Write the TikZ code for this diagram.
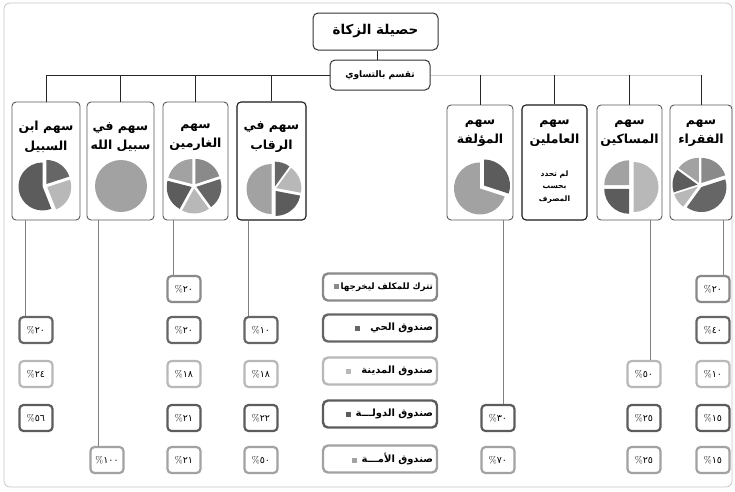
\documentclass[tikz,border=0pt]{standalone}
\usepackage{fontspec}
\newfontfamily\arabicfont[Script=Arabic,BoldFont={DejaVu Sans Bold}]{DejaVu Sans}
\TeXXeTstate=1
\newcommand\AR[1]{{\arabicfont\beginR #1\endR}}
\definecolor{cA}{HTML}{8A8A8A}
\definecolor{cB}{HTML}{666666}
\definecolor{cC}{HTML}{B8B8B8}
\definecolor{cD}{HTML}{5C5C5C}
\definecolor{cE}{HTML}{A2A2A2}
\newcommand\pslice[4]{\fill[#1] ({(#2+#3)/2}:2.5) -- +(#2:#4) arc[start angle=#2,end angle=#3,radius=#4] -- cycle;}
\begin{document}
\begin{tikzpicture}[x=1pt,y=-1pt,
  topbox/.style={draw=black!80, line width=1pt, rounded corners=5pt, fill=white, inner sep=0pt},
  card/.style={draw=black!65, line width=0.9pt, rounded corners=4pt, inner sep=0pt},
  cardtxt/.style={align=center, font=\fontsize{12.5}{19.5}\selectfont\bfseries, inner sep=0pt},
  pct/.style={draw=#1, line width=2.2pt, rounded corners=4pt, fill=white, minimum width=33pt, minimum height=26pt, inner sep=0pt, font=\fontsize{9.5}{10}\selectfont},
  leg/.style={draw=#1, line width=2.4pt, rounded corners=5pt, fill=white, minimum width=114pt, minimum height=27pt, inner sep=0pt, text width=106pt, align=right, font=\fontsize{10}{11}\selectfont\bfseries},
  bus/.style={line width=0.9pt, draw=black!85},
  feed/.style={line width=0.8pt, draw=black!50}]
\useasboundingbox (0,0) rectangle (735,491);
\draw[gray!45, line width=0.8pt, rounded corners=6pt] (4,3) rectangle (732,487);

% top
\node[topbox, minimum width=125pt, minimum height=37pt, font=\fontsize{13.5}{16}\selectfont\bfseries] (title) at (375.5,31.5) {\AR{حصيلة الزكاة}};
\node[topbox, minimum width=100pt, minimum height=30pt, font=\fontsize{9}{10}\selectfont\bfseries] (dist) at (380,75) {\AR{تقسم بالتساوي}};
\draw[bus] ([xshift=2pt]title.south) -- ([xshift=2pt]title.south |- dist.north);

% cards
\node[card, minimum width=68pt, minimum height=118pt] (c1) at (46,161) {};
\node[card, minimum width=67pt, minimum height=118pt] (c2) at (120.5,161) {};
\node[card, minimum width=65pt, minimum height=118pt] (c3) at (195.5,161) {};
\node[card, draw=black!90, line width=1.1pt, minimum width=69pt, minimum height=118pt] (c4) at (271.5,161) {};
\node[card, minimum width=66pt, minimum height=115pt] (c5) at (480,162.5) {};
\node[card, draw=black!90, line width=1.1pt, minimum width=65pt, minimum height=115pt] (c6) at (554.5,162.5) {};
\node[card, minimum width=65pt, minimum height=115pt] (c7) at (629.5,162.5) {};
\node[card, minimum width=62pt, minimum height=115pt] (c8) at (701,162.5) {};

% bus
\draw[bus] (dist.west) -- (c1.north |- dist.west);
\foreach \c in {c1,c2,c3,c4} \draw[bus] (\c.north |- dist.west) -- (\c.north);
\draw[line width=0.8pt, gray!40] (dist.east) -- (c8.north |- dist.east);
\foreach \c in {c5,c6,c7,c8} \draw[bus] (\c.north |- dist.east) -- (\c.north);

% card titles
\node[cardtxt] (t1) at (46,137) {\AR{سهم ابن}\\\AR{السبيل}};
\node[cardtxt] (t2) at (120.5,137) {\AR{سهم في}\\\AR{سبيل الله}};
\node[cardtxt] (t3) at (195.5,137) {\AR{سهم}\\\AR{الغارمين}};
\node[cardtxt] (t4) at (271.5,137) {\AR{سهم في}\\\AR{الرقاب}};
\node[cardtxt] (t5) at (480,133) {\AR{سهم}\\\AR{المؤلفة}};
\node[cardtxt] (t6) at (554.5,133) {\AR{سهم}\\\AR{العاملين}};
\node[cardtxt] (t7) at (629.5,133) {\AR{سهم}\\\AR{المساكين}};
\node[cardtxt] (t8) at (701,133) {\AR{سهم}\\\AR{الفقراء}};
\node[align=center, inner sep=0pt, font=\fontsize{7.5}{12.5}\selectfont\bfseries] (n6) at (554.5,187) {\AR{لم تحدد}\\\AR{بحسب}\\\AR{المصرف}};

% pies
\begin{scope}[shift={(45,186)}, yscale=-1]
  \pslice{cB}{90}{18}{24}\pslice{cC}{18}{-68.4}{24}\pslice{cD}{-68.4}{-270}{24}
\end{scope}
\fill[cE] (121,186) circle[radius=26];
\begin{scope}[shift={(194,186)}, yscale=-1]
  \pslice{cA}{90}{18}{25}\pslice{cB}{18}{-54}{25}\pslice{cC}{-54}{-118.8}{25}\pslice{cD}{-118.8}{-194.4}{25}\pslice{cE}{-194.4}{-270}{25}
\end{scope}
\begin{scope}[shift={(274,189)}, yscale=-1]
  \pslice{cB}{90}{54}{25}\pslice{cC}{54}{-10.8}{25}\pslice{cD}{-10.8}{-90}{25}\pslice{cE}{-90}{-270}{25}
\end{scope}
\begin{scope}[shift={(482,187)}, yscale=-1]
  \pslice{cD}{90}{-18}{26}\pslice{cE}{-18}{-270}{26}
\end{scope}
\begin{scope}[shift={(631,187)}, yscale=-1]
  \pslice{cC}{90}{-90}{25}\pslice{cD}{-90}{-180}{25}\pslice{cE}{-180}{-270}{25}
\end{scope}
\begin{scope}[shift={(700,185)}, yscale=-1]
  \pslice{cA}{90}{18}{25}\pslice{cB}{18}{-126}{25}\pslice{cC}{-126}{-162}{25}\pslice{cD}{-162}{-216}{25}\pslice{cE}{-216}{-270}{25}
\end{scope}

% legend
\node[leg=cA, font=\fontsize{8.8}{10}\selectfont\bfseries] (l1) at (380,287) {\textcolor{cA}{\rule{5pt}{5pt}}\,\AR{تترك للمكلف ليخرجها}};
\node[leg=cB] (l2) at (380,328) {\textcolor{cB}{\rule{5pt}{5pt}}\hspace{10pt}\AR{صندوق الحي}};
\node[leg=cC] (l3) at (380,371) {\textcolor{cC}{\rule{5pt}{5pt}}\hspace{10pt}\AR{صندوق المدينة}};
\node[leg=cD] (l4) at (380,414) {\textcolor{cD}{\rule{5pt}{5pt}}\hspace{5pt}\AR{صندوق الدولـــة}};
\node[leg=cE] (l5) at (380,459) {\textcolor{cE}{\rule{5pt}{5pt}}\hspace{5pt}\AR{صندوق الأمـــة}};

% percentages
\node[pct=cB] (p12) at (36,330) {\%{\arabicfont ٢٠}};
\node[pct=cC] (p13) at (36,374) {\%{\arabicfont ٢٤}};
\node[pct=cD] (p14) at (36,418) {\%{\arabicfont ٥٦}};
\node[pct=cE] (p25) at (107,460) {\%{\arabicfont ١٠٠}};
\node[pct=cA] (p31) at (184,289) {\%{\arabicfont ٢٠}};
\node[pct=cB] (p32) at (184,330) {\%{\arabicfont ٢٠}};
\node[pct=cC] (p33) at (184,374) {\%{\arabicfont ١٨}};
\node[pct=cD] (p34) at (184,418) {\%{\arabicfont ٢١}};
\node[pct=cE] (p35) at (184,460) {\%{\arabicfont ٢١}};
\node[pct=cB] (p42) at (261,330) {\%{\arabicfont ١٠}};
\node[pct=cC] (p43) at (261,374) {\%{\arabicfont ١٨}};
\node[pct=cD] (p44) at (261,418) {\%{\arabicfont ٢٢}};
\node[pct=cE] (p45) at (261,460) {\%{\arabicfont ٥٠}};
\node[pct=cD] (p54) at (498,418) {\%{\arabicfont ٣٠}};
\node[pct=cE] (p55) at (498,460) {\%{\arabicfont ٧٠}};
\node[pct=cC] (p73) at (644,374) {\%{\arabicfont ٥٠}};
\node[pct=cD] (p74) at (644,418) {\%{\arabicfont ٢٥}};
\node[pct=cE] (p75) at (644,460) {\%{\arabicfont ٢٥}};
\node[pct=cA] (p81) at (713,289) {\%{\arabicfont ٢٠}};
\node[pct=cB] (p82) at (713,330) {\%{\arabicfont ٤٠}};
\node[pct=cC] (p83) at (713,374) {\%{\arabicfont ١٠}};
\node[pct=cD] (p84) at (713,418) {\%{\arabicfont ١٥}};
\node[pct=cE] (p85) at (713,460) {\%{\arabicfont ١٥}};

% feeders
\draw[feed] ([xshift=-11pt]p12.north |- c1.south) -- ([xshift=-11pt]p12.north);
\draw[feed] ([xshift=-9pt]p25.north |- c2.south) -- ([xshift=-9pt]p25.north);
\draw[feed] ([xshift=-11pt]p31.north |- c3.south) -- ([xshift=-11pt]p31.north);
\draw[feed] ([xshift=-13pt]p42.north |- c4.south) -- ([xshift=-13pt]p42.north);
\draw[feed] ([xshift=5pt]p54.north |- c5.south) -- ([xshift=5pt]p54.north);
\draw[feed] ([xshift=6pt]p73.north |- c7.south) -- ([xshift=6pt]p73.north);
\draw[feed] ([xshift=10pt]p81.north |- c8.south) -- ([xshift=10pt]p81.north);
\end{tikzpicture}
\end{document}
